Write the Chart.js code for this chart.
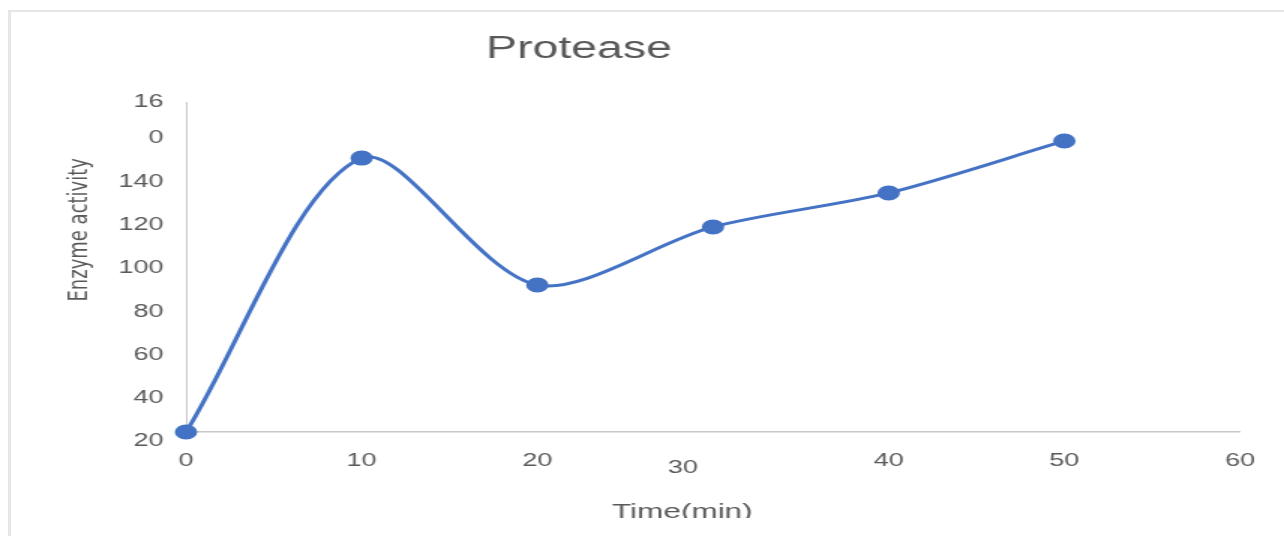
<!DOCTYPE html>
<html>
<head>
<meta charset="utf-8">
<title>Protease</title>
<script src="https://cdn.jsdelivr.net/npm/chart.js@4.4.1/dist/chart.umd.min.js"></script>
<style>
  html, body { margin: 0; padding: 0; background: #fff; }
  body { width: 1284px; height: 536px; overflow: hidden; position: relative; }
  /* the original picture is stretched sideways and cut off at the bottom */
  #clip { position: absolute; left: 0; top: 0; width: 1284px; height: 518px; overflow: hidden; }
  #chart { position: absolute; left: -126px; top: 0; transform: scaleX(1.5); transform-origin: 0 0; }
  #frame { position: absolute; left: 8px; top: 10px; right: 0; bottom: 0;
           border-left: 3px solid #e6e6e6; border-top: 2px solid #e6e6e6; pointer-events: none; }
</style>
</head>
<body>
<div id="clip"><canvas id="chart" width="940" height="536"></canvas></div>
<div id="frame"></div>
<script>
// values
const timeMin = [0, 10, 20, 30, 40, 50];
const enzymeActivity = [24.4, 150.9, 92.3, 119.1, 134.8, 158.8];

const xTickLabels = ['0', '10', '20', '30', '40', '50', '60'];
// label positions as they sit in the picture (top two are garbled in the source)
const yTickValues = [20, 40, 60, 80, 100, 120, 140, 160, 177];
const yTickLabels = ['20', '40', '60', '80', '100', '120', '140', '0', '16'];

const chartTitle = 'Protease';
const xTitle = 'Time(min)';
const yTitle = 'Enzyme activity';

const FONT = "'Liberation Sans', Arial, sans-serif";
const TEXT = '#595959';
const BLUE = '#4472C4';
const AXIS = '#c8c8c8';

new Chart(document.getElementById('chart'), {
    type: 'line',
    data: {
        datasets: [{
            data: timeMin.map((t, i) => ({ x: t, y: enzymeActivity[i] })),
            borderColor: BLUE,
            backgroundColor: BLUE,
            borderWidth: 3,
            pointRadius: 6,
            pointBackgroundColor: BLUE,
            pointBorderColor: BLUE,
            tension: 0.3,
            fill: false,
            clip: false
        }]
    },
    options: {
        responsive: false,
        animation: false,
        devicePixelRatio: 1,
        layout: { padding: { left: 29.33, right: 29.33, top: 0, bottom: 11 } },
        plugins: {
            legend: { display: false },
            tooltip: { enabled: false },
            title: {
                display: true,
                text: chartTitle,
                color: TEXT,
                font: { family: FONT, size: 31, weight: 'normal' },
                padding: { top: 30.4, bottom: 34.4 }
            }
        },
        scales: {
            x: {
                type: 'linear',
                min: 0,
                max: 60,
                grid: { display: false, drawTicks: false },
                border: { display: true, color: AXIS, width: 1.5 },
                ticks: {
                    stepSize: 10,
                    padding: 18,
                    maxRotation: 0,
                    color: TEXT,
                    // the "30" sits lower and to the left in the original
                    font: ctx => ({
                        family: FONT,
                        size: 18,
                        lineHeight: ctx.tick && ctx.tick.value === 30 ? '36px' : 1.2
                    }),
                    callback: (value, index) => index === 3 ? xTickLabels[index].padEnd(10) : xTickLabels[index]
                },
                title: {
                    display: true,
                    text: xTitle.padEnd(xTitle.length + 7),
                    color: TEXT,
                    font: { family: FONT, size: 21 },
                    padding: { top: 0, bottom: 0 }
                },
                afterFit: s => { s.height = 93; }
            },
            y: {
                min: 24.4,
                max: 176.8,
                grid: { display: false, drawTicks: false },
                border: { display: true, color: AXIS, width: 1 },
                afterBuildTicks: s => { s.ticks = yTickValues.map(v => ({ value: v })); },
                ticks: {
                    padding: 15,
                    color: TEXT,
                    font: { family: FONT, size: 18 },
                    callback: (value, index) => yTickLabels[index]
                },
                title: {
                    display: true,
                    // leading spaces lift the label above the axis middle, as in the original
                    text: yTitle.padStart(yTitle.length + 13),
                    color: TEXT,
                    font: { family: "'DejaVu Sans', sans-serif", size: 18 },
                    padding: { top: 97.2, bottom: 0 }
                },
                afterFit: s => { s.width = 178.67; }
            }
        }
    }
});
</script>
</body>
</html>
